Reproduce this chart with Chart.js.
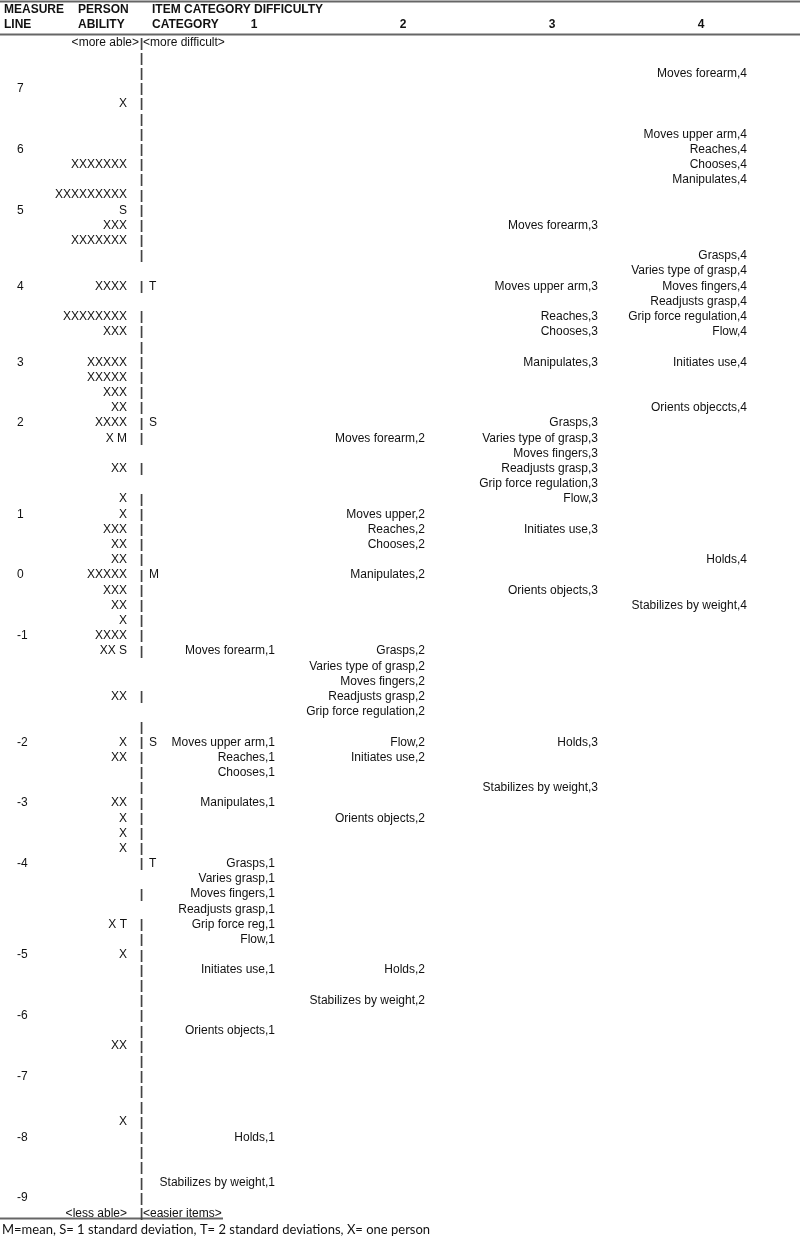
<!DOCTYPE html>
<html>
<head>
<meta charset="utf-8">
<script src="https://cdn.jsdelivr.net/npm/chart.js@4.4.1/dist/chart.umd.min.js"></script>
<style>
  html, body { margin: 0; padding: 0; background: #fff; }
  #wrap { width: 800px; height: 1238px; position: relative; }
</style>
</head>
<body>
<div id="wrap"><canvas id="wright-map"></canvas></div>
<script>
// Rows of the text map: 0 = "<more able>", 77 = "<less able>"

// Escala (measure line)
const measureRows = [3, 7, 11, 16, 21, 25, 31, 35, 39, 46, 50, 54, 60, 64, 68, 72, 76];
const measureLabels = ['7', '6', '5', '4', '3', '2', '1', '0', '-1', '-2', '-3', '-4', '-5', '-6', '-7', '-8', '-9'];

// Pessoas (person ability)
const personRows = [4, 8, 10, 11, 12, 13, 16, 18, 19, 21, 22, 23, 24, 25, 26, 28, 30, 31, 32, 33,
    34, 35, 36, 37, 38, 39, 40, 43, 46, 47, 50, 51, 52, 53, 58, 60, 66, 71];
const personMarks = ['X', 'XXXXXXX', 'XXXXXXXXX', 'S', 'XXX', 'XXXXXXX', 'XXXX', 'XXXXXXXX', 'XXX', 'XXXXX',
    'XXXXX', 'XXX', 'XX', 'XXXX', 'X M', 'XX', 'X', 'X', 'XXX', 'XX',
    'XX', 'XXXXX', 'XXX', 'XX', 'X', 'XXXX', 'XX S', 'XX', 'X', 'XX', 'XX', 'X', 'X', 'X', 'X T', 'X', 'XX', 'X'];

// Linha divisória "|"
const barRows = [0, 1, 2, 3, 4, 5, 6, 7, 8, 9, 10, 11, 12, 13, 14, 16, 18, 19, 20, 21, 22, 23, 24, 25, 26,
    28, 30, 31, 32, 33, 34, 35, 36, 37, 38, 39, 40, 43, 45, 46, 47, 48, 49, 50, 51, 52, 53, 54, 56, 58,
    59, 60, 61, 62, 63, 64, 65, 66, 67, 68, 69, 70, 71, 72, 73, 74, 75, 76, 77];

// Marcadores dos itens (M, S, T)
const markerRows = [16, 25, 35, 46, 54];
const markerLabels = ['T', 'S', 'M', 'S', 'T'];

// Categoria 1
const cat1Rows = [40, 46, 47, 48, 50, 54, 55, 56, 57, 58, 59, 61, 65, 72, 75];
const cat1Labels = ['Moves forearm,1', 'Moves upper arm,1', 'Reaches,1', 'Chooses,1', 'Manipulates,1',
    'Grasps,1', 'Varies grasp,1', 'Moves fingers,1', 'Readjusts grasp,1', 'Grip force reg,1', 'Flow,1',
    'Initiates use,1', 'Orients objects,1', 'Holds,1', 'Stabilizes by weight,1'];

// Categoria 2
const cat2Rows = [26, 31, 32, 33, 35, 40, 41, 42, 43, 44, 46, 47, 51, 61, 63];
const cat2Labels = ['Moves forearm,2', 'Moves upper,2', 'Reaches,2', 'Chooses,2', 'Manipulates,2',
    'Grasps,2', 'Varies type of grasp,2', 'Moves fingers,2', 'Readjusts grasp,2', 'Grip force regulation,2',
    'Flow,2', 'Initiates use,2', 'Orients objects,2', 'Holds,2', 'Stabilizes by weight,2'];

// Categoria 3
const cat3Rows = [12, 16, 18, 19, 21, 25, 26, 27, 28, 29, 30, 32, 36, 46, 49];
const cat3Labels = ['Moves forearm,3', 'Moves upper arm,3', 'Reaches,3', 'Chooses,3', 'Manipulates,3',
    'Grasps,3', 'Varies type of grasp,3', 'Moves fingers,3', 'Readjusts grasp,3', 'Grip force regulation,3',
    'Flow,3', 'Initiates use,3', 'Orients objects,3', 'Holds,3', 'Stabilizes by weight,3'];

// Categoria 4
const cat4Rows = [2, 6, 7, 8, 9, 14, 15, 16, 17, 18, 19, 21, 24, 34, 37];
const cat4Labels = ['Moves forearm,4', 'Moves upper arm,4', 'Reaches,4', 'Chooses,4', 'Manipulates,4',
    'Grasps,4', 'Varies type of grasp,4', 'Moves fingers,4', 'Readjusts grasp,4', 'Grip force regulation,4',
    'Flow,4', 'Initiates use,4', 'Orients objeccts,4', 'Holds,4', 'Stabilizes by weight,4'];

const FONT = '12px "Liberation Sans", Arial, sans-serif';
const BOLD = 'bold 12px "Liberation Sans", Arial, sans-serif';
const BAR_FONT = 'bold 13px "Liberation Sans", Arial, sans-serif';
const NOTE_FONT = '13px Lato, "Open Sans", sans-serif';

// Cria um conjunto de textos ancorados em (x, linha)
function textSet(rows, texts, x, align, font, color) {
    return {
        type: 'scatter',
        data: rows.map(r => ({ x: x, y: r })),
        texts: texts,
        align: align,
        font: font || FONT,
        textColor: color || '#111',
        pointRadius: 0,
        pointHoverRadius: 0
    };
}

// Linha horizontal (régua)
function rule(row, x0, x1) {
    return {
        type: 'scatter',
        showLine: true,
        data: [{ x: x0, y: row }, { x: x1, y: row }],
        borderColor: '#666',
        borderWidth: 2,
        pointRadius: 0,
        pointHoverRadius: 0
    };
}

const textPlugin = {
    id: 'textPlugin',
    afterDatasetsDraw(chart) {
        const ctx = chart.ctx;
        chart.data.datasets.forEach((ds, i) => {
            if (!ds.texts) return;
            const meta = chart.getDatasetMeta(i);
            ctx.save();
            ctx.font = ds.font;
            ctx.fillStyle = ds.textColor;
            ctx.textAlign = ds.align;
            ctx.textBaseline = 'middle';
            meta.data.forEach((pt, j) => ctx.fillText(ds.texts[j], pt.x, pt.y));
            ctx.restore();
        });
    }
};

const datasets = [
    rule(-2.73, 0, 800),
    rule(-0.56, 0, 800),
    rule(77.34, 0, 223),
    // cabeçalho
    textSet([-2.17], ['MEASURE'], 4, 'left', BOLD),
    textSet([-2.17], ['PERSON'], 78, 'left', BOLD),
    textSet([-2.17], ['ITEM CATEGORY DIFFICULTY'], 152, 'left', BOLD),
    textSet([-1.18], ['LINE'], 4, 'left', BOLD),
    textSet([-1.18], ['ABILITY'], 78, 'left', BOLD),
    textSet([-1.18], ['CATEGORY'], 152, 'left', BOLD),
    textSet([-1.18], ['1'], 254, 'center', BOLD),
    textSet([-1.18], ['2'], 403, 'center', BOLD),
    textSet([-1.18], ['3'], 552, 'center', BOLD),
    textSet([-1.18], ['4'], 701, 'center', BOLD),
    // extremos
    textSet([0], ['<more able>'], 139, 'right'),
    textSet([0, 77], ['<more difficult>', '<easier items>'], 143, 'left'),
    textSet([77], ['<less able>'], 127, 'right'),
    // corpo
    textSet(measureRows, measureLabels, 17, 'left'),
    textSet(personRows, personMarks, 127, 'right'),
    textSet(barRows, barRows.map(() => '|'), 141.5, 'center', BAR_FONT, '#444'),
    textSet(markerRows, markerLabels, 149, 'left'),
    textSet(cat1Rows, cat1Labels, 275, 'right'),
    textSet(cat2Rows, cat2Labels, 425, 'right'),
    textSet(cat3Rows, cat3Labels, 598, 'right'),
    textSet(cat4Rows, cat4Labels, 747, 'right'),
    // legenda
    textSet([78.09], ['M=mean, S= 1 standard deviation, T= 2 standard deviations, X= one person'], 2, 'left', NOTE_FONT)
];

new Chart(document.getElementById('wright-map'), {
    type: 'scatter',
    data: { datasets: datasets },
    options: {
        responsive: true,
        maintainAspectRatio: false,
        animation: false,
        events: [],
        layout: { padding: 0 },
        plugins: { legend: { display: false }, tooltip: { enabled: false } },
        scales: {
            x: { type: 'linear', min: 0, max: 800, display: false },
            y: { type: 'linear', min: -2.83, max: 78.62, reverse: true, display: false }
        }
    },
    plugins: [textPlugin]
});
</script>
</body>
</html>
